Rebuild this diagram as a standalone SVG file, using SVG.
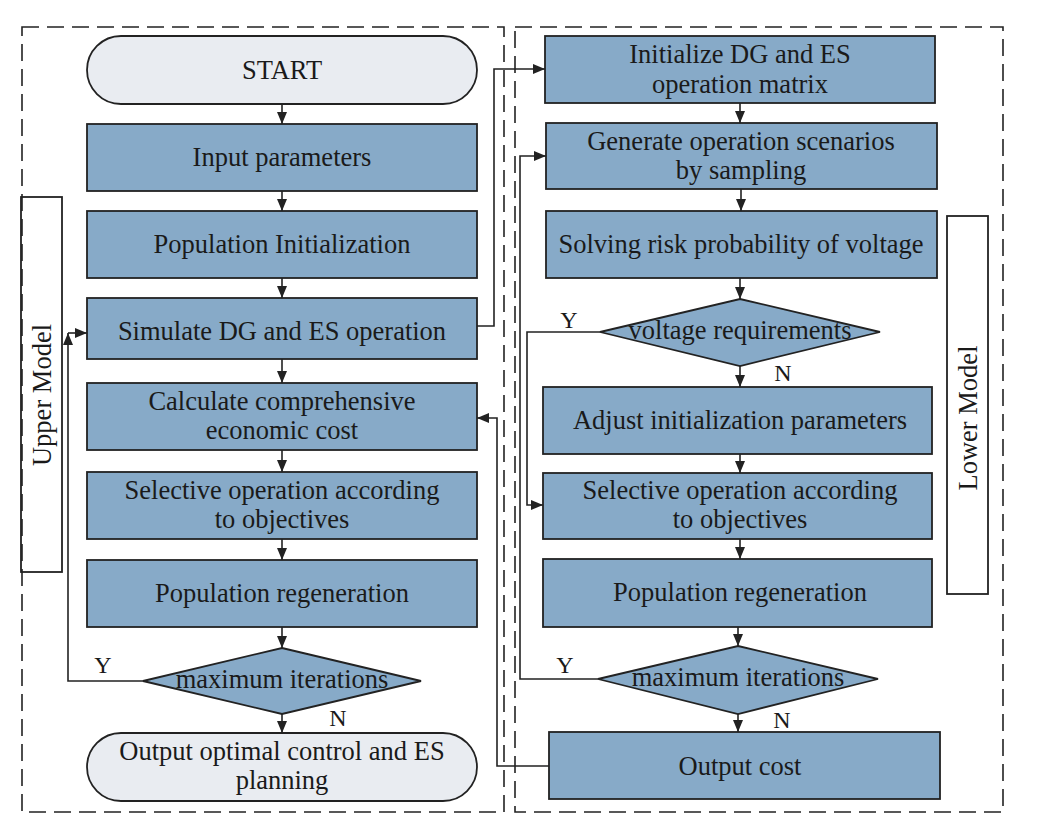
<svg xmlns="http://www.w3.org/2000/svg" width="1043" height="831" viewBox="0 0 1043 831">
<style>
.box{fill:#87aac8;stroke:#222;stroke-width:1.8}
.term{fill:#e9ecf1;stroke:#222;stroke-width:1.8}
.dash{fill:none;stroke:#222;stroke-width:1.6;stroke-dasharray:17 8}
.lbl{fill:none;stroke:#222;stroke-width:1.8}
.ln{fill:none;stroke:#222;stroke-width:1.6}
text{font-family:"Liberation Serif","Times New Roman",serif;font-size:26.5px;fill:#1a1a1a;text-anchor:middle}
.yn{font-size:24px}
</style>
<defs>
<marker id="ah" viewBox="0 0 12 10" refX="12" refY="5" markerWidth="12" markerHeight="10" markerUnits="userSpaceOnUse" orient="auto">
<path d="M0,0 L12,5 L0,10 z" fill="#222"/>
</marker>
</defs>
<rect width="1043" height="831" fill="#fff"/>
<g id="frames">
<rect class="dash" x="22" y="27" width="482" height="785"/>
<rect class="dash" x="515" y="27" width="488" height="785"/>
</g>
<g id="upper-model-label">
<rect class="lbl" x="21" y="197" width="41" height="375"/>
<text transform="translate(51,395) rotate(-90)">Upper Model</text>
</g>
<g id="lower-model-label">
<rect class="lbl" x="947" y="216" width="41" height="378"/>
<text transform="translate(977,418) rotate(-90)">Lower Model</text>
</g>
<g id="start"><rect class="term" x="87" y="36" width="390" height="68" rx="34"/><text x="282" y="79">START</text></g>
<g id="input"><rect class="box" x="87" y="124" width="390" height="67"/><text x="282" y="166">Input parameters</text></g>
<g id="popinit"><rect class="box" x="87" y="211" width="390" height="67"/><text x="282" y="253">Population Initialization</text></g>
<g id="simulate"><rect class="box" x="87" y="298" width="390" height="61"/><text x="282" y="340">Simulate DG and ES operation</text></g>
<g id="calc"><rect class="box" x="87" y="383" width="390" height="67"/><text x="282" y="410">Calculate comprehensive</text><text x="282" y="439">economic cost</text></g>
<g id="select-u"><rect class="box" x="87" y="472" width="390" height="67"/><text x="282" y="499">Selective operation according</text><text x="282" y="528">to objectives</text></g>
<g id="regen-u"><rect class="box" x="87" y="560" width="390" height="67"/><text x="282" y="602">Population regeneration</text></g>
<g id="maxit-u"><polygon class="box" points="282,648 421,681 282,714 143,681"/><text x="282" y="688">maximum iterations</text></g>
<g id="output-u"><rect class="term" x="87" y="733" width="390" height="68" rx="34"/><text x="282" y="760">Output optimal control and ES</text><text x="282" y="789">planning</text></g>
<g id="initmat"><rect class="box" x="545" y="36" width="390" height="67"/><text x="740" y="63">Initialize DG and ES</text><text x="740" y="93">operation matrix</text></g>
<g id="generate"><rect class="box" x="546" y="123" width="391" height="66"/><text x="741" y="150">Generate operation scenarios</text><text x="741" y="179">by sampling</text></g>
<g id="solving"><rect class="box" x="546" y="211" width="391" height="67"/><text x="741" y="253">Solving risk probability of voltage</text></g>
<g id="voltage"><polygon class="box" points="740,299 880,332 740,366 600,332"/><text x="740" y="339">voltage requirements</text></g>
<g id="adjust"><rect class="box" x="543" y="387" width="389" height="67"/><text x="740" y="429">Adjust initialization parameters</text></g>
<g id="select-l"><rect class="box" x="543" y="473" width="389" height="66"/><text x="740" y="499">Selective operation according</text><text x="740" y="528">to objectives</text></g>
<g id="regen-l"><rect class="box" x="543" y="559" width="389" height="68"/><text x="740" y="601">Population regeneration</text></g>
<g id="maxit-l"><polygon class="box" points="738,646 878,679 738,714 598,679"/><text x="738" y="686">maximum iterations</text></g>
<g id="outcost"><rect class="box" x="549" y="732" width="391" height="67"/><text x="740" y="775">Output cost</text></g>
<g id="connectors">
<line class="ln" x1="282" y1="104" x2="282" y2="124" marker-end="url(#ah)"/>
<line class="ln" x1="282" y1="191" x2="282" y2="211" marker-end="url(#ah)"/>
<line class="ln" x1="282" y1="278" x2="282" y2="298" marker-end="url(#ah)"/>
<line class="ln" x1="282" y1="359" x2="282" y2="383" marker-end="url(#ah)"/>
<line class="ln" x1="282" y1="450" x2="282" y2="472" marker-end="url(#ah)"/>
<line class="ln" x1="282" y1="539" x2="282" y2="560" marker-end="url(#ah)"/>
<line class="ln" x1="282" y1="627" x2="282" y2="648" marker-end="url(#ah)"/>
<line class="ln" x1="282" y1="714" x2="282" y2="733" marker-end="url(#ah)"/>
<polyline class="ln" points="143,681 68,681 68,333" marker-end="url(#ah)"/>
<line class="ln" x1="68" y1="333" x2="87" y2="333" marker-end="url(#ah)"/>
<polyline class="ln" points="477,326 494,326 494,69 545,69" marker-end="url(#ah)"/>
<line class="ln" x1="740" y1="103" x2="740" y2="123" marker-end="url(#ah)"/>
<line class="ln" x1="741" y1="189" x2="741" y2="211" marker-end="url(#ah)"/>
<line class="ln" x1="740" y1="278" x2="740" y2="299" marker-end="url(#ah)"/>
<line class="ln" x1="740" y1="366" x2="740" y2="387" marker-end="url(#ah)"/>
<line class="ln" x1="740" y1="454" x2="740" y2="473" marker-end="url(#ah)"/>
<line class="ln" x1="740" y1="539" x2="740" y2="559" marker-end="url(#ah)"/>
<line class="ln" x1="738" y1="627" x2="738" y2="646" marker-end="url(#ah)"/>
<line class="ln" x1="738" y1="714" x2="738" y2="732" marker-end="url(#ah)"/>
<polyline class="ln" points="600,332 527,332 527,505 543,505" marker-end="url(#ah)"/>
<polyline class="ln" points="598,679 520,679 520,156 546,156" marker-end="url(#ah)"/>
<polyline class="ln" points="549,766 497,766 497,418 477,418" marker-end="url(#ah)"/>
<text class="yn" x="103" y="673">Y</text>
<text class="yn" x="338" y="726">N</text>
<text class="yn" x="569" y="328">Y</text>
<text class="yn" x="783" y="381">N</text>
<text class="yn" x="565" y="673">Y</text>
<text class="yn" x="782" y="728">N</text>
</g>
</svg>
